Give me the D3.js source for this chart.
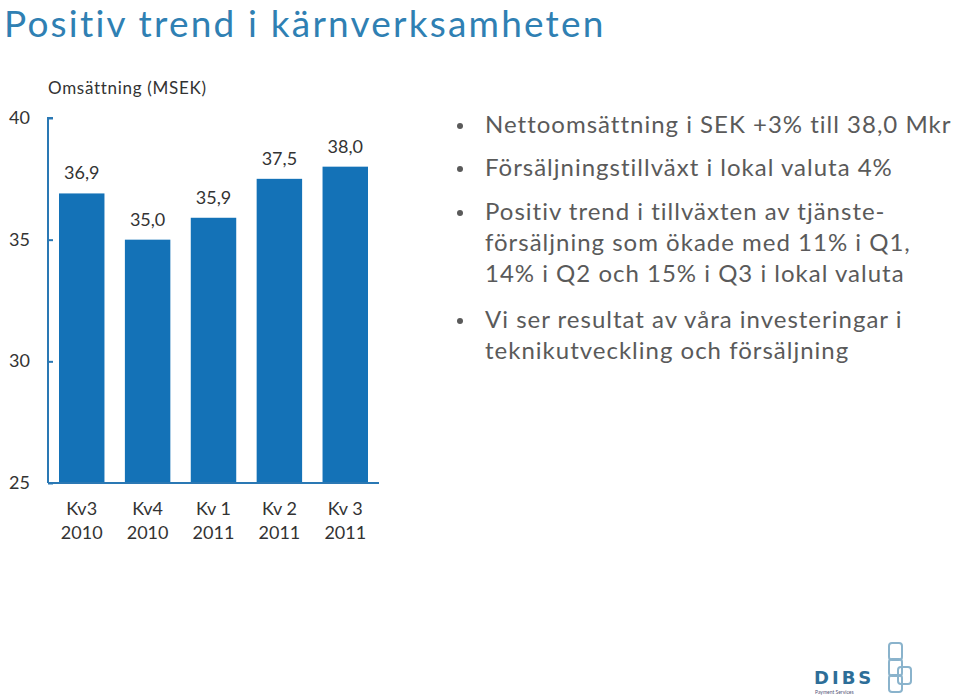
<!DOCTYPE html>
<html><head><meta charset="utf-8">
<script src="https://cdn.jsdelivr.net/npm/d3@7"></script>
<style>body{margin:0;background:#fff}svg{display:block}text{font-variant-ligatures:none;font-feature-settings:"liga" 0}</style>
</head><body>
<script>
const categories = [["Kv3","2010"],["Kv4","2010"],["Kv 1","2011"],["Kv 2","2011"],["Kv 3","2011"]];
const values = [36.9, 35.0, 35.9, 37.5, 38.0];
const valueLabels = ["36,9","35,0","35,9","37,5","38,0"];
const yTicks = [25, 30, 35, 40];
const titleText = "Positiv trend i kärnverksamheten";
const yTitle = "Omsättning (MSEK)";
const bullets = [
  ["Nettoomsättning i SEK +3% till 38,0 Mkr"],
  ["Försäljningstillväxt i lokal valuta 4%"],
  ["Positiv trend i tillväxten av tjänste-","försäljning som ökade med 11% i Q1,","14% i Q2 och 15% i Q3 i lokal valuta"],
  ["Vi ser resultat av våra investeringar i","teknikutveckling och försäljning"]
];

const W = 960, H = 697;
const font = "Lato, 'Open Sans', sans-serif";
const blue = "#1472b7", axisBlue = "#2a78b4", textCol = "#333", bulletCol = "#5a5a5a";
const svg = d3.select("body").append("svg").attr("width", W).attr("height", H);

svg.append("text").attr("x", 4).attr("y", 37).attr("font-family", font)
  .attr("font-size", 37).attr("letter-spacing", 2.2).attr("fill", "#2f80b3").text(titleText);

const x = d3.scaleBand().domain(d3.range(categories.length)).range([48, 379]).paddingInner(0.31).paddingOuter(0.167);
const y = d3.scaleLinear().domain([25, 40]).range([483, 118]);

svg.append("text").attr("x", 48).attr("y", 94).attr("font-family", font)
  .attr("font-size", 17).attr("letter-spacing", 0.7).attr("fill", textCol).text(yTitle);

const yAxis = svg.append("g").attr("transform", "translate(48,0)")
  .call(d3.axisRight(y).tickValues(yTicks).tickSize(5).tickFormat(""));
yAxis.selectAll("path,line").attr("stroke", axisBlue).attr("stroke-width", 2);
yAxis.select(".domain").attr("d", `M5,${y(40)}H0V${y(25)}`);
svg.selectAll(".ylab").data(yTicks).enter().append("text")
  .attr("x", 30).attr("y", d => y(d) + 6).attr("text-anchor", "end")
  .attr("font-family", font).attr("font-size", 18).attr("fill", textCol).text(d => d);

svg.selectAll(".bar").data(values).enter().append("rect")
  .attr("x", (d, i) => x(i)).attr("width", x.bandwidth())
  .attr("y", d => y(d)).attr("height", d => y(25) - y(d)).attr("fill", blue);

const xAxis = svg.append("g").attr("transform", `translate(0,${y(25)})`)
  .call(d3.axisBottom(x).tickSize(0).tickFormat(""));
xAxis.select(".domain").attr("stroke", axisBlue).attr("stroke-width", 2).attr("d", "M48,0H379");

svg.selectAll(".vlab").data(values).enter().append("text")
  .attr("x", (d, i) => x(i) + x.bandwidth() / 2).attr("y", d => y(d) - 14)
  .attr("text-anchor", "middle").attr("font-family", font).attr("font-size", 18)
  .attr("fill", textCol).text((d, i) => valueLabels[i]);

categories.forEach((c, i) => {
  c.forEach((line, j) => {
    svg.append("text").attr("x", x(i) + x.bandwidth() / 2).attr("y", 515 + j * 24)
      .attr("text-anchor", "middle").attr("font-family", font).attr("font-size", 18)
      .attr("fill", textCol).text(line);
  });
});

const lineYs = [[133], [176], [220, 251, 282], [328, 359]];
bullets.forEach((b, i) => {
  svg.append("circle").attr("cx", 460).attr("cy", lineYs[i][0] - 7).attr("r", 3).attr("fill", bulletCol);
  b.forEach((line, j) => {
    svg.append("text").attr("x", 485).attr("y", lineYs[i][j]).attr("font-family", font)
      .attr("font-size", 24).attr("letter-spacing", 1).attr("fill", bulletCol).text(line);
  });
});

// logo
const logo = svg.append("g");
logo.append("text").attr("x", 814).attr("y", 684).attr("font-family", "'DejaVu Sans', sans-serif")
  .attr("font-weight", "bold").attr("font-size", 18).attr("fill", "#2d6e98").attr("letter-spacing", 3).text("DIBS");
logo.append("text").attr("x", 815).attr("y", 694).attr("font-family", font)
  .attr("font-size", 5).attr("fill", "#557").text("Payment Services");
[[889, 643], [889, 659], [889, 675], [898, 667]].forEach(([cx, cy]) => {
  logo.append("rect").attr("x", cx).attr("y", cy).attr("width", 13).attr("height", 17).attr("rx", 3)
    .attr("fill", "none").attr("stroke", "#8ab3cc").attr("stroke-width", 2);
});
</script>
</body></html>
